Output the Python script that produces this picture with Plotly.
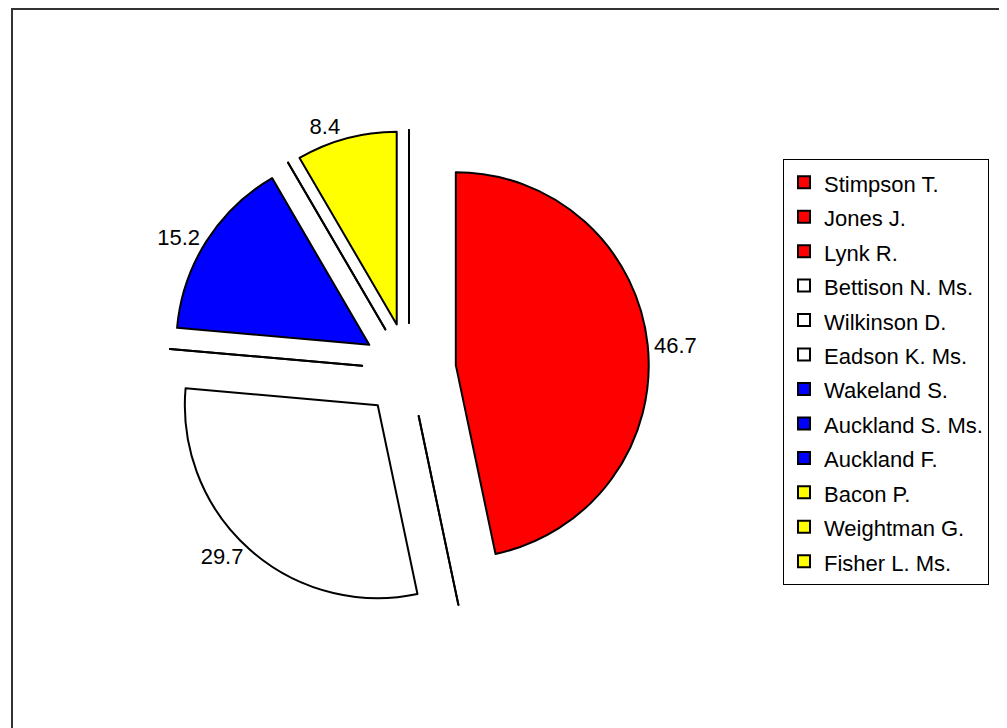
import plotly.graph_objects as go

# ---- data ----
names = ["Stimpson T.", "Jones J.", "Lynk R.",
         "Bettison N. Ms.", "Wilkinson D.", "Eadson K. Ms.",
         "Wakeland S.", "Auckland S. Ms.", "Auckland F.",
         "Bacon P.", "Weightman G.", "Fisher L. Ms."]
values = [46.7, 0, 0,
          29.7, 0, 0,
          15.2, 0, 0,
          8.4, 0, 0]
colors = ["#FF0000", "#FF0000", "#FF0000",
          "#FFFFFF", "#FFFFFF", "#FFFFFF",
          "#0000FF", "#0000FF", "#0000FF",
          "#FFFF00", "#FFFF00", "#FFFF00"]

# the page body adds an 8px margin; size the figure so it fits the window
OFF = 8
W, H = 1007 - OFF, 728 - OFF
FONT = "Arial, Liberation Sans, sans-serif"

# zero-valued slices are drawn as hairline (exploded) slices, like the original
HAIRLINE = 1e-6
draw_values = [v if v > 0 else HAIRLINE for v in values]
slice_text = [f"{v:.1f}" if v > 0 else "" for v in values]
legend_labels = [f'<span style="font-size:22px">{n}</span>' for n in names]

# pie geometry in page pixels (centre and full diameter incl. explosion)
cx, cy, size = 409 - OFF, 370 - OFF, 480
dom_x = [(cx - size / 2) / W, (cx + size / 2) / W]
dom_y = [1 - (cy + size / 2) / H, 1 - (cy - size / 2) / H]

fig = go.Figure(go.Pie(
    labels=legend_labels,
    values=draw_values,
    customdata=values,
    text=slice_text,
    textinfo="text",
    textposition="outside",
    textfont=dict(family=FONT, size=22, color="black"),
    marker=dict(colors=colors, line=dict(color="black", width=2)),
    sort=False,
    direction="clockwise",
    rotation=0,
    pull=[0.244] * len(values),
    domain=dict(x=dom_x, y=dom_y),
    hovertemplate="%{label}: %{customdata}<extra></extra>",
))

fig.update_layout(
    width=W, height=H,
    margin=dict(l=0, r=0, t=0, b=0),
    paper_bgcolor="white",
    plot_bgcolor="white",
    font=dict(family=FONT, color="black"),
    showlegend=True,
    legend=dict(
        x=(783 - OFF) / W, y=1 - (159 - OFF) / H, xanchor="left", yanchor="top",
        bgcolor="white", bordercolor="black", borderwidth=1,
        font=dict(family=FONT, size=24.2, color="black"),
        traceorder="normal",
    ),
    shapes=[dict(type="rect", xref="paper", yref="paper",
                 x0=(12 - OFF) / W, y0=-0.05, x1=1.05, y1=1 - 1 / H,
                 line=dict(color="#333333", width=2), layer="above")],
)

fig.write_html("out.html")
